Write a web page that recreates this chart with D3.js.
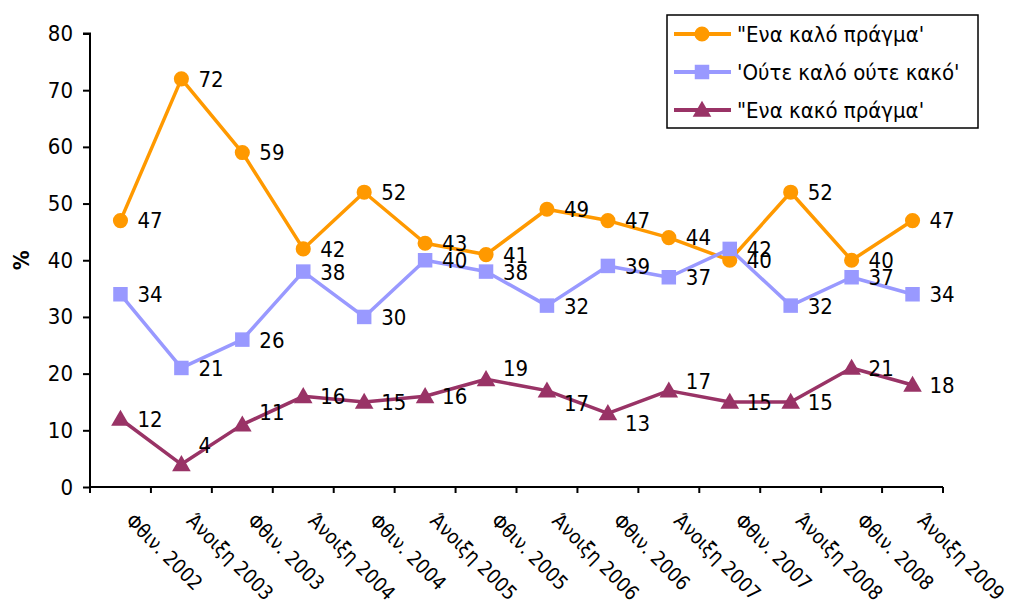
<!DOCTYPE html>
<html>
<head>
<meta charset="utf-8">
<script src="https://cdn.jsdelivr.net/npm/d3@7"></script>
<style>
  html, body { margin: 0; padding: 0; background: #fff; }
  text { font-family: "DejaVu Sans Condensed", "DejaVu Sans", sans-serif; fill: #000; }
</style>
</head>
<body>
<svg id="chart" width="1011" height="606"></svg>
<script>
// ---- data ----
const categories = ["Φθιν. 2002", "Άνοιξη 2003", "Φθιν. 2003", "Άνοιξη 2004", "Φθιν. 2004", "Άνοιξη 2005", "Φθιν. 2005",
                    "Άνοιξη 2006", "Φθιν. 2006", "Άνοιξη 2007", "Φθιν. 2007", "Άνοιξη 2008", "Φθιν. 2008", "Άνοιξη 2009"];
const seriesNames = ["\"Ενα καλό πράγμα'", "'Ούτε καλό ούτε κακό'", "\"Ενα κακό πράγμα'"];
const goodValues    = [47, 72, 59, 42, 52, 43, 41, 49, 47, 44, 40, 52, 40, 47];
const neitherValues = [34, 21, 26, 38, 30, 40, 38, 32, 39, 37, 42, 32, 37, 34];
const badValues     = [12, 4, 11, 16, 15, 16, 19, 17, 13, 17, 15, 15, 21, 18];
const yTicks = [0, 10, 20, 30, 40, 50, 60, 70, 80];

// ---- layout ----
const svg = d3.select("#chart");
const plot = { left: 90, right: 943, top: 33.5, bottom: 487 };
const x = d3.scaleBand().domain(categories).range([plot.left, plot.right]);
const y = d3.scaleLinear().domain([0, 80]).range([plot.bottom, plot.top]);
const cx = c => x(c) + x.bandwidth() / 2;

const styles = [
  { color: "#FF9900", symbol: d3.symbolCircle, size: 180 },
  { color: "#9999FF", symbol: d3.symbolSquare, size: 210 },
  { color: "#993366", symbol: d3.symbolTriangle, size: 150 }
];
const allSeries = [goodValues, neitherValues, badValues];

// label nudges (layout only) for series index 2
const labelDy = { "2-1": -19, "2-2": -13, "2-6": -11, "2-7": 12, "2-8": 10, "2-9": -10 };

// ---- axes ----
const yAxis = svg.append("g").attr("transform", `translate(${plot.left},0)`)
  .call(d3.axisLeft(y).tickValues(yTicks).tickSize(7).tickPadding(10).tickFormat(d3.format("d")));
yAxis.select(".domain").attr("stroke", "#000").attr("stroke-width", 2).attr("d", `M-7,${y(80)}H0V${y(0)}`);
yAxis.selectAll(".tick line").attr("stroke", "#000").attr("stroke-width", 2);
yAxis.selectAll(".tick text").style("font-size", "22px").attr("fill", "#000");

const xAxis = svg.append("g").attr("transform", `translate(0,${plot.bottom})`);
xAxis.append("line").attr("x1", plot.left).attr("x2", plot.right).attr("stroke", "#000").attr("stroke-width", 2);
const xTickPos = categories.map(c => x(c)).concat([plot.right]);
xAxis.selectAll("line.tk").data(xTickPos).join("line").attr("class", "tk")
  .attr("x1", d => d).attr("x2", d => d).attr("y1", 0).attr("y2", 6)
  .attr("stroke", "#000").attr("stroke-width", 2);
xAxis.selectAll("text.cat").data(categories).join("text").attr("class", "cat")
  .attr("transform", d => `translate(${cx(d) + 4},${35}) rotate(45)`)
  .style("font-size", "20px")
  .text(d => d);

// y title
svg.append("text").attr("transform", `translate(29,${(plot.top + plot.bottom) / 2}) rotate(-90)`)
  .attr("text-anchor", "middle").style("font-size", "22px").style("font-weight", "bold").text("%");

// ---- series ----
const line = d3.line().x((d, i) => cx(categories[i])).y(d => y(d));
allSeries.forEach((vals, si) => {
  const st = styles[si];
  const g = svg.append("g");
  g.append("path").datum(vals).attr("d", line).attr("fill", "none")
    .attr("stroke", st.color).attr("stroke-width", 3.5).attr("stroke-linejoin", "round");
  g.selectAll("path.m").data(vals).join("path").attr("class", "m")
    .attr("transform", (d, i) => `translate(${cx(categories[i])},${y(d) + (si === 2 ? 1.5 : 0)})`)
    .attr("d", d3.symbol().type(st.symbol).size(st.size)).attr("fill", st.color);
});
allSeries.forEach((vals, si) => {
  svg.append("g").selectAll("text").data(vals).join("text")
    .attr("x", (d, i) => cx(categories[i]) + 17)
    .attr("y", (d, i) => y(d) + (labelDy[`${si}-${i}`] || 0))
    .attr("dy", "0.36em")
    .style("font-size", "22px")
    .text(d => d);
});

// ---- legend ----
const lg = svg.append("g");
lg.append("rect").attr("x", 667).attr("y", 15).attr("width", 311).attr("height", 113)
  .attr("fill", "#fff").attr("stroke", "#000").attr("stroke-width", 1.5);
seriesNames.forEach((name, si) => {
  const st = styles[si];
  const ly = 34 + si * 38;
  lg.append("line").attr("x1", 674).attr("x2", 731).attr("y1", ly).attr("y2", ly)
    .attr("stroke", st.color).attr("stroke-width", 4);
  lg.append("path").attr("transform", `translate(702,${ly + (si === 2 ? 1.5 : 0)})`)
    .attr("d", d3.symbol().type(st.symbol).size(st.size)).attr("fill", st.color);
  lg.append("text").attr("x", 737).attr("y", ly).attr("dy", "0.36em")
    .style("font-size", "22px").text(name);
});
</script>
</body>
</html>
